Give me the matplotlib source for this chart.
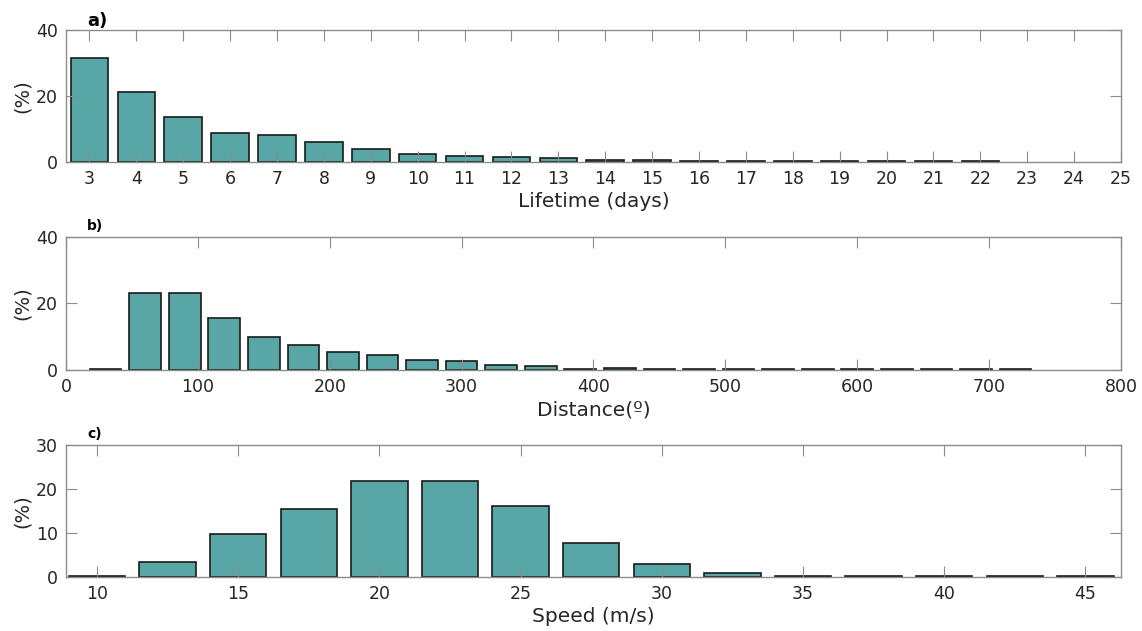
import matplotlib
matplotlib.use('Agg')
import matplotlib.pyplot as plt

# Panel a: lifetime (days) -- 23 and 24 days have no events
lifetime_days = [3, 4, 5, 6, 7, 8, 9, 10, 11, 12, 13, 14, 15, 16, 17, 18, 19, 20, 21, 22]
lifetime_pct = [31.5, 21.2, 13.5, 8.7, 8.0, 5.8, 3.7, 2.2, 1.6, 1.3, 1.1, 0.6, 0.35, 0.3,
                0.15, 0.15, 0.2, 0.1, 0.1, 0.1]

# Panel b: distance
distance = [30, 60, 90, 120, 150, 180, 210, 240, 270, 300, 330, 360, 390, 420, 450, 480,
            510, 540, 570, 600, 630, 660, 690, 720]
distance_pct = [0.2, 23.2, 23.2, 15.5, 9.8, 7.3, 5.2, 4.3, 3.0, 2.6, 1.5, 1.1, 0.3, 0.5,
                0.3, 0.3, 0.15, 0.1, 0.1, 0.1, 0.1, 0.1, 0.1, 0.1]

# Panel c: speed (m/s)
speed = [10, 12.5, 15, 17.5, 20, 22.5, 25, 27.5, 30, 32.5, 35, 37.5, 40, 42.5, 45]
speed_pct = [0.2, 3.3, 9.6, 15.4, 21.7, 21.8, 16.0, 7.7, 2.8, 0.8, 0.2, 0.1, 0.1, 0.1, 0.1]

bar_color = '#59a6a6'
edge_color = '#1a1a1a'
text_color = '#262626'
axis_color = '#8c8c8c'

plt.rcParams['font.family'] = ['DejaVu Sans']

fig = plt.figure(figsize=(11.42, 6.31), dpi=100)

def style_axes(ax):
    for s in ax.spines.values():
        s.set_color(axis_color)
        s.set_linewidth(1.0)
    ax.tick_params(direction='in', top=True, right=True, length=7.6, width=0.8,
                   color=axis_color, labelcolor=text_color, labelsize=12.5, pad=6)

# a)
ax1 = fig.add_axes([0.0578, 0.7440, 0.9238, 0.2085])
ax1.bar(lifetime_days, lifetime_pct, width=0.8, color=bar_color, edgecolor=edge_color, linewidth=1.2)
ax1.set_xlim(2.5, 25)
ax1.set_ylim(0, 40)
ax1.set_xticks(range(3, 26))
ax1.set_yticks([0, 20, 40])
ax1.set_xlabel('Lifetime (days)', fontsize=14.5, color=text_color, labelpad=3)
ax1.set_ylabel('(%)', fontsize=14, color=text_color, labelpad=3)
style_axes(ax1)
ax1.text(0.02, 1.03, 'a)', transform=ax1.transAxes, fontsize=13, fontweight='bold',
         color='black', va='baseline')

# b)
ax2 = fig.add_axes([0.0578, 0.4141, 0.9238, 0.2108])
ax2.bar(distance, distance_pct, width=24, color=bar_color, edgecolor=edge_color, linewidth=1.2)
ax2.set_xlim(0, 800)
ax2.set_ylim(0, 40)
ax2.set_xticks(range(0, 801, 100))
ax2.set_yticks([0, 20, 40])
ax2.set_xlabel('Distance(º)', fontsize=14.5, color=text_color, labelpad=3)
ax2.set_ylabel('(%)', fontsize=14, color=text_color, labelpad=3)
style_axes(ax2)
ax2.text(0.02, 1.05, 'b)', transform=ax2.transAxes, fontsize=10, fontweight='bold',
         color='black', va='baseline')

# c)
ax3 = fig.add_axes([0.0578, 0.0861, 0.9238, 0.2092])
ax3.bar(speed, speed_pct, width=2.0, color=bar_color, edgecolor=edge_color, linewidth=1.2)
ax3.set_xlim(8.9, 46.26)
ax3.set_ylim(0, 30)
ax3.set_xticks(range(10, 46, 5))
ax3.set_yticks([0, 10, 20, 30])
ax3.set_xlabel('Speed (m/s)', fontsize=14.5, color=text_color, labelpad=3)
ax3.set_ylabel('(%)', fontsize=14, color=text_color, labelpad=3)
style_axes(ax3)
ax3.text(0.02, 1.05, 'c)', transform=ax3.transAxes, fontsize=10, fontweight='bold',
         color='black', va='baseline')

fig.savefig('out.png', dpi=100)
